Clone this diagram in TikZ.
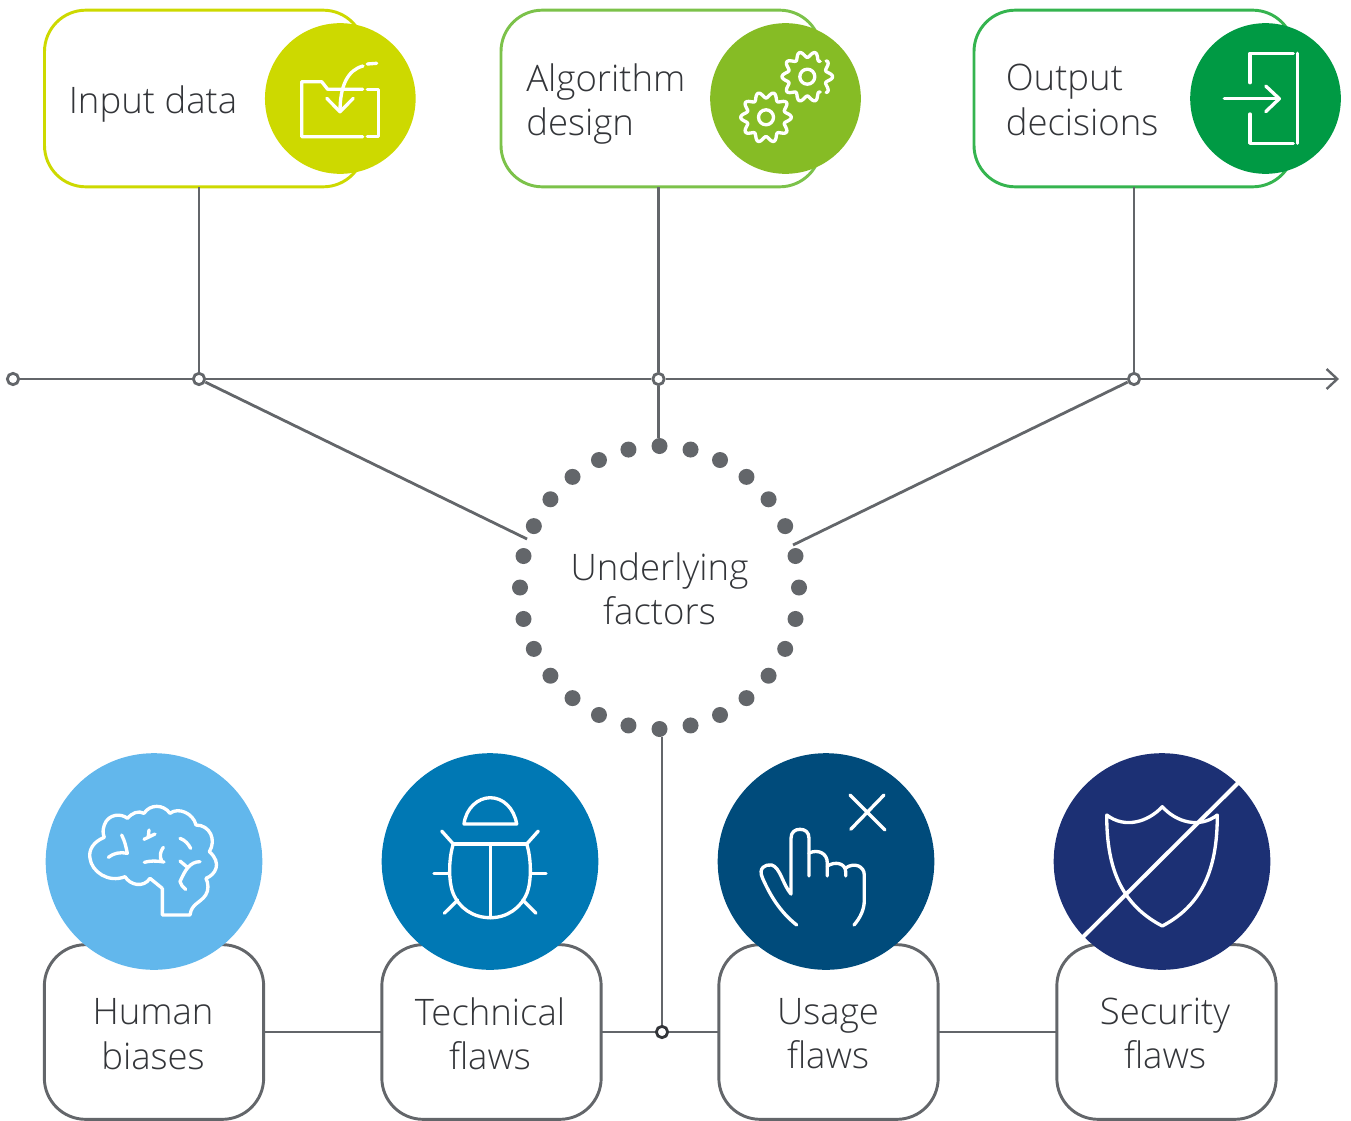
\documentclass[tikz,border=0pt]{standalone}
\usepackage{fontspec}
\setmainfont{Open Sans}[UprightFont=* Light]
\usetikzlibrary{arrows.meta}

\definecolor{lime}{HTML}{CDD900}
\definecolor{leaf}{HTML}{86BC25}
\definecolor{leafline}{HTML}{7CC24A}
\definecolor{forest}{HTML}{009A44}
\definecolor{forestline}{HTML}{35B44F}
\definecolor{sky}{HTML}{62B7EC}
\definecolor{ocean}{HTML}{0078B4}
\definecolor{navy}{HTML}{004B7B}
\definecolor{indigo}{HTML}{1C3074}
\definecolor{axisgray}{HTML}{63666A}
\definecolor{txt}{HTML}{333539}

\tikzset{
  boxtop/.style={draw=#1, line width=2.2pt, fill=white, rounded corners=31pt, inner sep=0, outer sep=0, minimum height=132.5pt},
  boxbot/.style={draw=axisgray, line width=2.2pt, fill=white, rounded corners=31pt, inner sep=0, outer sep=0, minimum width=164.5pt, minimum height=131pt},
  badge/.style={circle, fill=#1, inner sep=0, minimum size=113pt},
  bigbadge/.style={circle, fill=#1, inner sep=0, minimum size=162.5pt},
  lbl/.style={text=txt, inner sep=0, font=\fontsize{27.4}{33.2}\selectfont},
  junction/.style={circle, draw=axisgray, fill=white, line width=2.1pt, inner sep=0, minimum size=8.5pt},
  bead/.style={circle, fill=axisgray, inner sep=0, minimum size=12pt},
  axisline/.style={draw=axisgray, line width=2.1pt},
  icon/.style={draw=white, line width=2.5pt, line cap=round, line join=round},
}

\begin{document}
\begin{tikzpicture}[x=0.75pt, y=-0.75pt]
\useasboundingbox (0,0) rectangle (1351,1120);

% top row
\node[boxtop=lime, minimum width=240pt] (box_input) at (204.5,98.5) {};
\node[boxtop=leafline, minimum width=240pt] (box_algo) at (661,98.5) {};
\node[boxtop=forestline, minimum width=240pt] (box_output) at (1134,98.5) {};
\node[badge=lime] (circ_input) at (340.3,98.5) {};
\node[badge=leaf] (circ_algo) at (785.5,98.5) {};
\node[badge=forest] (circ_output) at (1265.5,98.5) {};
\node[lbl, anchor=west] (lbl_input) at (68.5,104) {Input data};
\node[lbl, anchor=west, align=left] (lbl_algo) at (526,104) {Algorithm\\design};
\node[lbl, anchor=west, align=left] (lbl_output) at (1005.5,100) {Output\\decisions};

% timeline
\node[junction] (j_start) at (13,379) {};
\node[junction] (j_input) at (199,379) {};
\node[junction] (j_algo) at (658.5,379) {};
\node[junction] (j_output) at (1134,379) {};
\coordinate (tip) at (1339,379);
\draw[axisline, -{Straight Barb[length=8pt, width=15pt, line width=1.8pt]}] (j_start) -- (j_input) -- (j_algo) -- (j_output) -- (tip);
\draw[axisline] (j_input) -- (j_input |- box_input.south);
\draw[axisline] (j_algo) -- (j_algo |- box_algo.south);
\draw[axisline] (j_output) -- (j_output |- box_output.south);

% ring of beads
\foreach \i in {0,...,27}
  \node[bead] (dot\i) at ({659.5+139.5*sin(\i*360/28)},{587.5-141.5*cos(\i*360/28)}) {};
\node[lbl, align=center] (lbl_factors) at (659.5,589) {Underlying\\factors};
\coordinate (diag_l) at (527,539);
\coordinate (diag_r) at (793,545);
\draw[axisline] (j_input) -- (diag_l);
\draw[axisline] (j_output) -- (diag_r);
\draw[axisline] (j_algo) -- (j_algo |- dot0.north);

% bottom row
\node[boxbot] (box_human) at (154,1032) {};
\node[boxbot] (box_tech) at (491.5,1032) {};
\node[boxbot] (box_usage) at (828.5,1032) {};
\node[boxbot] (box_sec) at (1166.5,1032) {};
\node[bigbadge=sky] (circ_human) at (154,861.5) {};
\node[bigbadge=ocean] (circ_tech) at (490,861.5) {};
\node[bigbadge=navy] (circ_usage) at (826,861.5) {};
\node[bigbadge=indigo] (circ_sec) at (1162,861.5) {};
\node[lbl, align=center] (lbl_human) at (153,1034) {Human\\biases};
\node[lbl, align=center] (lbl_tech) at (490,1033.5) {Technical\\flaws};
\node[lbl, align=center] (lbl_usage) at (828,1033.5) {Usage\\flaws};
\node[lbl, align=center] (lbl_sec) at (1165,1033.5) {Security\\flaws};

\node[junction, draw=txt] (j_bot) at (662,1032) {};
\draw[axisline] (j_bot) -- (j_bot |- dot14.south);
\draw[axisline] (box_human.east) -- (box_tech.west);
\draw[axisline] (box_tech.east) -- (j_bot);
\draw[axisline] (j_bot) -- (box_usage.west);
\draw[axisline] (box_usage.east) -- (box_sec.west);

% folder icon
\draw[icon] (362.7,89.3) -- (327.7,89.3) -- (321.7,81.7) -- (301.7,81.7) -- (301.7,136.7) -- (362.7,136.7);
\draw[icon] (367.3,89.3) -- (378.3,89.3) -- (378.3,136.7) -- (367.3,136.7);
\draw[icon] (363,66) .. controls (348,70) and (340,85) .. (340,111.7);
\draw[icon] (367.3,64) -- (376.7,63.3);
\draw[icon] (326.7,98.3) -- (340,111.7) -- (353.3,98.3);

% gear icons
\draw[icon] plot[domain=50:310, samples=105, smooth] ({807.3+(22.3+3*cos(10*\x))*cos(\x)},{76.7+(22.3+3*cos(10*\x))*sin(\x)});
\draw[icon] plot[domain=-40:40, samples=33, smooth] ({807.3+(22.3+3*cos(10*\x))*cos(\x)},{76.7+(22.3+3*cos(10*\x))*sin(\x)});
\draw[icon] (807.3,76.7) circle[radius=7.5];
\draw[icon] plot[domain=0:360, samples=145, smooth] ({766+(22.3+3*cos(10*\x))*cos(\x)},{117.3+(22.3+3*cos(10*\x))*sin(\x)});
\draw[icon] (766,117.3) circle[radius=7.5];

% door icon
\draw[icon] (1250,82.7) -- (1250,53.3) -- (1293.3,53.3);
\draw[icon] (1250,114) -- (1250,143.3) -- (1293.3,143.3);
\draw[icon] (1297.3,53.3) -- (1297.3,143.3);
\draw[icon] (1224.3,98.7) -- (1279.3,98.7);
\draw[icon] (1265.7,86) -- (1279.3,98.7) -- (1265.7,111.7);

% brain icon
\begin{scope}[shift={(40,750)}, x=0.25pt, y=-0.25pt]
\draw[icon] (367,415) -- (367,495) -- (450,495) .. controls (455,460) and (480,460) .. (497,435) .. controls (507,420) and (505,400) .. (498,385)
  .. controls (525,375) and (548,340) .. (508,305) .. controls (530,270) and (510,225) .. (468,225)
  .. controls (460,190) and (415,170) .. (390,190) .. controls (370,162) and (330,162) .. (312,190) .. controls (295,180) and (275,190) .. (262,205)
  .. controls (245,190) and (205,190) .. (193,225) .. controls (188,240) and (188,250) .. (193,262)
  .. controls (160,275) and (145,300) .. (150,325) .. controls (155,365) and (205,400) .. (255,380)
  .. controls (270,405) and (310,415) .. (330,385) -- (367,415);
\draw[icon] (245,255) .. controls (255,275) and (258,290) .. (262,310) .. controls (240,305) and (220,310) .. (205,322);
\draw[icon] (312,268) -- (345,252) (327,240) -- (325,258);
\draw[icon] (313,337) .. controls (330,332) and (350,332) .. (372,336) (370,292) .. controls (360,305) and (358,320) .. (366,335);
\draw[icon] (420,265) .. controls (435,270) and (445,282) .. (452,295);
\draw[icon] (480,335) .. controls (450,335) and (435,360) .. (420,395) .. controls (422,405) and (430,412) .. (437,418) (420,333) -- (440,350);
\end{scope}

% bug icon
\draw[icon] (464,824) -- (516.7,824) .. controls (514,808) and (503,797.7) .. (490.3,797.7) .. controls (478,797.7) and (466,808) .. (464,824) -- cycle;
\draw[icon] (453.3,844) -- (526.7,844);
\draw[icon] (453.3,844) .. controls (449,857) and (448,880) .. (453,893) .. controls (459,908) and (473,917.7) .. (490.3,917.7) .. controls (507,917.7) and (521,908) .. (527,893) .. controls (532,880) and (531,857) .. (526.7,844);
\draw[icon] (490.3,844) -- (490.3,917.7);
\draw[icon] (441.7,831) -- (453.3,844) (538.3,831) -- (526.7,844);
\draw[icon] (434,873.3) -- (449,873.3) (546,873.3) -- (531,873.3);
\draw[icon] (444.3,913.3) -- (457.7,900) (536,913.3) -- (522.7,900);

% hand icon
\draw[icon] (850,795) -- (885,830) (884,795) -- (850.7,829.3);
\draw[icon] (796.7,925) .. controls (780,912) and (770,895) .. (762.5,878) .. controls (758,868) and (765,864) .. (771.7,865) .. controls (780,867) and (783,885) .. (791,894)
  -- (791,838.3) .. controls (791,832) and (795,829.3) .. (800,829.3) .. controls (805,829.3) and (809,832) .. (809,838.3) -- (809,876);
\draw[icon] (809,853) .. controls (818,849) and (827.3,853) .. (827.3,863) -- (827.3,876);
\draw[icon] (827.3,866) .. controls (835,861) and (845.7,863) .. (845.7,872) -- (845.7,876);
\draw[icon] (845.7,868) .. controls (854,862) and (864.3,866) .. (864.3,875) -- (864.3,900) .. controls (864.3,910) and (860,918) .. (854,925);

% shield icon
\draw[icon] (1162.3,806.7) .. controls (1148,822) and (1125,829) .. (1106.7,815) .. controls (1106.7,863) and (1118,903) .. (1162.3,926)
  .. controls (1206,903) and (1217.3,863) .. (1217.3,815) .. controls (1199,829) and (1176,822) .. (1162.3,806.7) -- cycle;
\draw[draw=white, line width=3pt] (1241,780) -- (1082,938);

\end{tikzpicture}
\end{document}
